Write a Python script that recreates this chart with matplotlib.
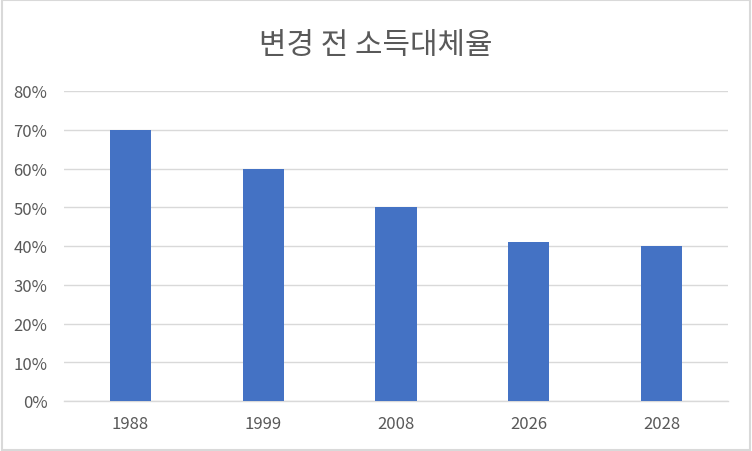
import numpy as np
import matplotlib
matplotlib.use("Agg")
import matplotlib.pyplot as plt
from matplotlib.patches import Rectangle
from matplotlib.ticker import FuncFormatter

plt.rcParams['font.family'] = ['Noto Sans CJK KR', 'DejaVu Sans']

years = ['1988', '1999', '2008', '2026', '2028']
rates = [0.70, 0.60, 0.50, 0.41, 0.40]
title = '변경 전 소득대체율'

text_color = '#595959'
grid_color = '#D9D9D9'

fig = plt.figure(figsize=(7.52, 4.52), dpi=100)
ax = fig.add_axes([64 / 752, 50 / 452, 664 / 752, 310 / 452])

x = np.arange(len(years))
ax.bar(x, rates, width=0.31, color='#4472C4', zorder=3)

ax.set_xlim(-0.5, len(years) - 0.5)
ax.set_ylim(0, 0.8)
ax.set_yticks(np.arange(0, 0.81, 0.1))
ax.yaxis.set_major_formatter(FuncFormatter(lambda v, p: f'{v * 100:.0f}%'))
ax.set_xticks(x)
ax.set_xticklabels(years)

ax.grid(axis='y', color=grid_color, linewidth=1, zorder=0)
for s in ['top', 'right', 'left']:
    ax.spines[s].set_visible(False)
ax.spines['bottom'].set_color(grid_color)
ax.spines['bottom'].set_linewidth(1)
ax.tick_params(axis='both', length=0, labelsize=12, colors=text_color)
ax.tick_params(axis='y', pad=12)
ax.tick_params(axis='x', pad=10)

fig.text(0.5, 1 - 45 / 452, title, ha='center', va='center',
         fontsize=21.5, color=text_color)

# chart border
fig.patches.append(Rectangle((0.002, 0.002), 0.996, 0.996, transform=fig.transFigure,
                             fill=False, edgecolor=grid_color, linewidth=1.5))

fig.savefig('out.png', dpi=100)
